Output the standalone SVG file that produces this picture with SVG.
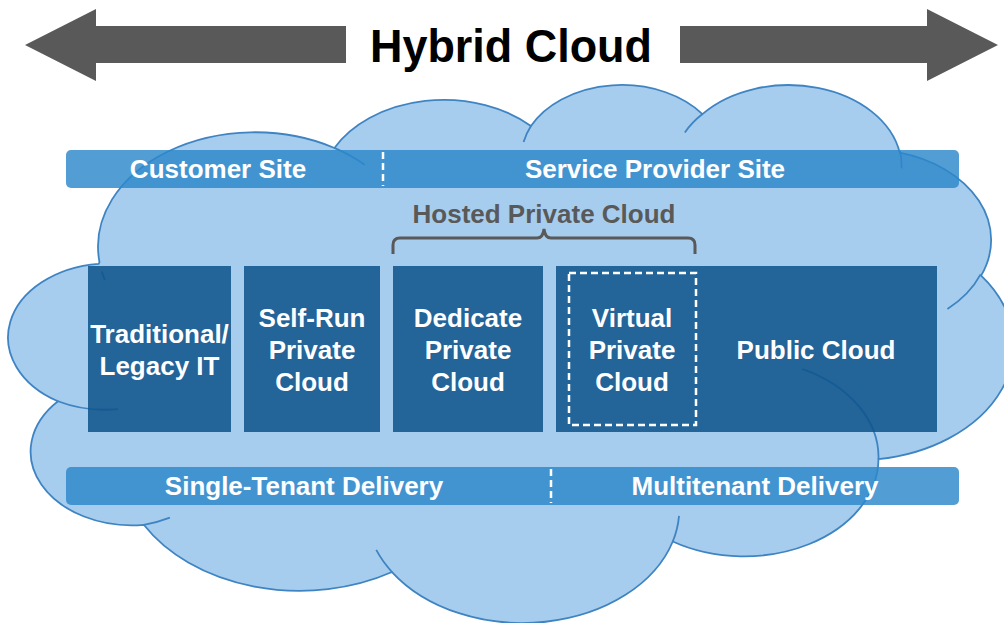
<svg xmlns="http://www.w3.org/2000/svg" width="1004" height="623" viewBox="0 0 1004 623">
  <defs>
    <style>
      .arrow { fill: #595959; }
      .title { font-family: "Liberation Sans", Arial, sans-serif; font-weight: bold; font-size: 47px; fill: #000000; }
      .cloud { fill: #A7CDEE; stroke: #3F84C2; stroke-width: 1.8; }
      .crease { fill: none; stroke: #3F84C2; stroke-width: 1.8; }
      .bar { fill: #2C87CB; fill-opacity: 0.82; }
      .box { fill: #0D538A; fill-opacity: 0.86; }
      .lbl { font-family: "Liberation Sans", Arial, sans-serif; font-weight: bold; font-size: 26px; fill: #FFFFFF; text-anchor: middle; }
      .glbl { font-family: "Liberation Sans", Arial, sans-serif; font-weight: bold; font-size: 26px; fill: #595959; text-anchor: middle; }
      .sep { stroke: #FFFFFF; stroke-width: 2.5; stroke-dasharray: 7 4; fill: none; }
    </style>
  </defs>

  <g id="hybrid-arrow">
    <polygon class="arrow" points="25,45 96,9 96,26 346,26 346,63 96,63 96,81"/>
    <polygon class="arrow" points="998,45 927,9 927,26 680,26 680,63 927,63 927,81"/>
    <text class="title" x="511" y="62" text-anchor="middle" textLength="282" lengthAdjust="spacingAndGlyphs">Hybrid Cloud</text>
  </g>

  <g id="cloud" transform="translate(8.8,83.2) scale(0.02325,0.01245)">
    <path class="cloud" vector-effect="non-scaling-stroke" d="M 3900 14370 A 6753 9190 0 0 1 14005.9 5202.8 A 5333 7267 0 0 1 22458.1 3433.0 A 4365 5945 0 0 1 29834.2 2479.7 A 4857 6595 0 0 1 38319.3 5575.1 A 5333 7273 0 0 1 41819.7 15459.0 A 6775 9220 0 0 1 37405.3 30201.1 A 5785 7867 0 0 1 28557.6 36811.9 A 6752 9215 0 0 1 16482.5 39264.5 A 7720 10543 0 0 1 5807.0 35470.7 A 4360 5918 0 0 1 2116.1 25548.2 A 4345 5945 0 0 1 3865.7 14504.4 Z"/>
    <path class="crease" vector-effect="non-scaling-stroke" d="M 4693 26177 A 4345 5945 0 0 1 2116.1 25548.2 M 6928 34899 A 4360 5918 0 0 1 5807.0 35470.7 M 16482.5 39264.5 A 6752 9215 0 0 1 15804 37490 M 28827 34751 A 6752 9215 0 0 1 28557.6 36811.9 M 34129 22954 A 5785 7867 0 0 1 37405.3 30201.1 M 41798 15354 A 5333 7273 0 0 1 40371 18136 M 38324 5426 A 4857 6595 0 0 1 38396 6840 M 29078 3952 A 4857 6595 0 0 1 29834.2 2479.7 M 22141 4720 A 4365 5945 0 0 1 22458.1 3433.0 M 14000 5192 A 6753 9190 0 0 1 15306 6550.5 M 4127 15789 A 6753 9190 0 0 1 4000 15127"/>
  </g>

  <g id="site-bar">
    <rect class="bar" x="66" y="150" width="893" height="38" rx="5"/>
    <line class="sep" x1="383" y1="152" x2="383" y2="186"/>
    <text class="lbl" x="218" y="178">Customer Site</text>
    <text class="lbl" x="655" y="178">Service Provider Site</text>
  </g>

  <g id="hosted-private-cloud">
    <text class="glbl" x="544" y="223">Hosted Private Cloud</text>
    <path d="M 393 254 L 393 245 Q 393 238 400 238 L 537 238 Q 543 238 544 229 Q 545 238 551 238 L 688 238 Q 695 238 695 245 L 695 254" fill="none" stroke="#595959" stroke-width="3"/>
  </g>

  <g id="traditional-legacy-it">
    <rect class="box" x="88" y="266" width="143" height="166"/>
    <text class="lbl" x="159.5" y="343">Traditional/</text>
    <text class="lbl" x="159.5" y="375">Legacy IT</text>
  </g>

  <g id="self-run-private-cloud">
    <rect class="box" x="244" y="266" width="136" height="166"/>
    <text class="lbl" x="312" y="327">Self-Run</text>
    <text class="lbl" x="312" y="359">Private</text>
    <text class="lbl" x="312" y="391">Cloud</text>
  </g>

  <g id="dedicate-private-cloud">
    <rect class="box" x="393" y="266" width="150" height="166"/>
    <text class="lbl" x="468" y="327">Dedicate</text>
    <text class="lbl" x="468" y="359">Private</text>
    <text class="lbl" x="468" y="391">Cloud</text>
  </g>

  <g id="public-cloud">
    <rect class="box" x="556" y="266" width="381" height="166"/>
    <text class="lbl" x="816" y="359">Public Cloud</text>
  </g>

  <g id="virtual-private-cloud">
    <rect x="569" y="273" width="127" height="152" class="sep"/>
    <text class="lbl" x="632" y="327">Virtual</text>
    <text class="lbl" x="632" y="359">Private</text>
    <text class="lbl" x="632" y="391">Cloud</text>
  </g>

  <g id="delivery-bar">
    <rect class="bar" x="66" y="467" width="893" height="38" rx="5"/>
    <line class="sep" x1="551" y1="469" x2="551" y2="503"/>
    <text class="lbl" x="304" y="495">Single-Tenant Delivery</text>
    <text class="lbl" x="755" y="495">Multitenant Delivery</text>
  </g>

  <g id="connectors"></g>
</svg>
